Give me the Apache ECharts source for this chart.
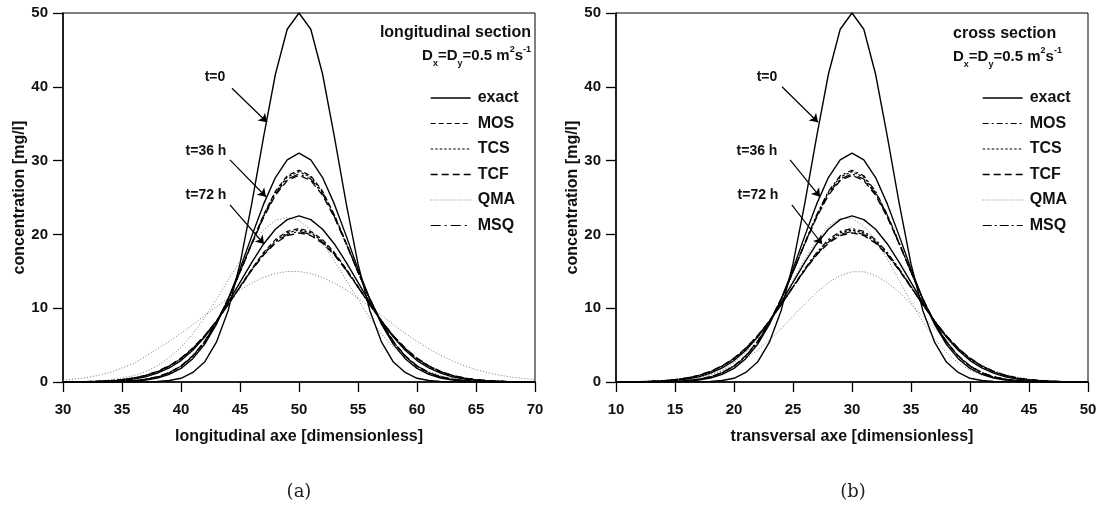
<!DOCTYPE html>
<html><head><meta charset="utf-8">
<script src="https://cdn.jsdelivr.net/npm/echarts@6/dist/echarts.min.js"></script>
<style>html,body{margin:0;padding:0;background:#fff}#c{width:1105px;height:518px}</style>
</head><body><div id="c"></div>
<script>
// ---------- data ----------
const xA = [30,31,32,33,34,35,36,37,38,39,40,41,42,43,44,45,46,47,48,49,50,51,52,53,54,55,56,57,58,59,60,61,62,63,64,65,66,67,68,69,70];
const xB = [10,11,12,13,14,15,16,17,18,19,20,21,22,23,24,25,26,27,28,29,30,31,32,33,34,35,36,37,38,39,40,41,42,43,44,45,46,47,48,49,50];
const xTicksA = [30,35,40,45,50,55,60,65,70];
const xTicksB = [10,15,20,25,30,35,40,45,50];
const yTicks = [0,10,20,30,40,50];

const exact0  = [0,0,0,0,0,0,0,0.02,0.07,0.2,0.5,1.3,2.7,5.4,9.7,16.0,24.2,33.2,41.7,47.8,50,47.8,41.7,33.2,24.2,16.0,9.7,5.4,2.7,1.3,0.5,0.2,0.07,0.02,0,0,0,0,0,0,0];
const exact36 = [0,0,0,0,0.02,0.05,0.12,0.27,0.54,1.03,1.85,3.16,5.1,7.8,11.25,15.3,19.8,24.1,27.7,30.1,31.0,30.1,27.7,24.1,19.8,15.3,11.25,7.8,5.1,3.16,1.85,1.03,0.54,0.27,0.12,0.05,0.02,0,0,0,0];
const exact72 = [0,0.01,0.03,0.06,0.12,0.22,0.41,0.7,1.2,1.9,2.9,4.3,6.1,8.2,10.8,13.5,16.2,18.7,20.7,22.0,22.5,22.0,20.7,18.7,16.2,13.5,10.8,8.2,6.1,4.3,2.9,1.9,1.2,0.7,0.41,0.22,0.12,0.06,0.03,0.01,0];

const mos36 = [0,0,0,0.02,0.04,0.08,0.17,0.35,0.66,1.22,2.11,3.46,5.38,7.95,11.15,14.9,18.85,22.65,25.85,27.95,28.7,27.95,25.85,22.65,18.85,14.9,11.15,7.95,5.38,3.46,2.11,1.22,0.66,0.35,0.17,0.08,0.04,0.02,0,0,0];
const tcs36 = [0,0,0,0.02,0.04,0.08,0.18,0.36,0.68,1.24,2.14,3.5,5.43,8.01,11.21,14.91,18.83,22.57,25.7,27.77,28.5,27.77,25.7,22.57,18.83,14.91,11.21,8.01,5.43,3.5,2.14,1.24,0.68,0.36,0.18,0.08,0.04,0.02,0,0,0];
const tcf36 = [0,0,0,0.02,0.04,0.09,0.19,0.38,0.71,1.28,2.19,3.56,5.5,8.1,11.3,14.9,18.7,22.3,25.3,27.3,28.0,27.3,25.3,22.3,18.7,14.9,11.3,8.1,5.5,3.56,2.19,1.28,0.71,0.38,0.19,0.09,0.04,0.02,0,0,0];
const msq36 = [0,0,0,0.02,0.04,0.08,0.18,0.37,0.69,1.26,2.16,3.53,5.46,8.05,11.25,14.9,18.75,22.4,25.5,27.5,28.2,27.5,25.5,22.4,18.75,14.9,11.25,8.05,5.46,3.53,2.16,1.26,0.69,0.37,0.18,0.08,0.04,0.02,0,0,0];

const mos72 = [0.01,0.02,0.05,0.09,0.17,0.3,0.51,0.86,1.37,2.11,3.13,4.49,6.18,8.2,10.5,12.95,15.35,17.55,19.3,20.4,20.8,20.4,19.3,17.55,15.35,12.95,10.5,8.2,6.18,4.49,3.13,2.11,1.37,0.86,0.51,0.3,0.17,0.09,0.05,0.02,0.01];
const tcs72 = [0.01,0.02,0.05,0.09,0.17,0.31,0.52,0.87,1.39,2.14,3.16,4.52,6.21,8.22,10.49,12.88,15.25,17.4,19.1,20.2,20.6,20.2,19.1,17.4,15.25,12.88,10.49,8.22,6.21,4.52,3.16,2.14,1.39,0.87,0.52,0.31,0.17,0.09,0.05,0.02,0.01];
const tcf72 = [0.01,0.03,0.05,0.1,0.18,0.32,0.55,0.91,1.44,2.2,3.24,4.6,6.28,8.27,10.5,12.85,15.15,17.2,18.8,19.85,20.2,19.85,18.8,17.2,15.15,12.85,10.5,8.27,6.28,4.6,3.24,2.2,1.44,0.91,0.55,0.32,0.18,0.1,0.05,0.03,0.01];
const msq72 = [0.01,0.02,0.05,0.09,0.17,0.31,0.54,0.89,1.41,2.17,3.2,4.56,6.25,8.24,10.49,12.86,15.2,17.3,18.95,20.0,20.4,20.0,18.95,17.3,15.2,12.86,10.49,8.24,6.25,4.56,3.2,2.17,1.41,0.89,0.54,0.31,0.17,0.09,0.05,0.02,0.01];

const qmaA36 = [0.02,0.04,0.09,0.16,0.29,0.52,0.87,1.4,2.2,3.3,4.7,6.5,8.7,11.2,13.8,16.4,18.8,20.6,21.9,22.3,21.9,20.6,18.8,16.4,13.8,11.2,8.7,6.5,4.7,3.3,2.2,1.4,0.87,0.52,0.29,0.16,0.09,0.04,0.02,0.01,0];
const qmaA72 = [0.25,0.4,0.6,0.9,1.3,1.9,2.5,3.5,4.5,5.5,6.6,7.78,8.99,10.21,11.39,12.48,13.42,14.17,14.7,14.97,14.97,14.7,14.17,13.42,12.48,11.39,10.21,8.99,7.78,6.6,5.51,4.51,3.62,2.86,2.22,1.69,1.26,0.93,0.67,0.47,0.33];
const qmaB36 = [0,0,0.01,0.03,0.07,0.15,0.29,0.54,0.96,1.61,2.6,3.99,5.84,8.16,10.85,13.77,16.66,19.22,21.14,22.17,22.17,21.14,19.22,16.66,13.77,10.85,8.16,5.84,3.99,2.6,1.61,0.96,0.54,0.29,0.15,0.07,0.03,0.01,0,0,0];
const qmaB72 = [0.01,0.02,0.04,0.08,0.14,0.24,0.4,0.65,1.01,1.53,2.24,3.16,4.32,5.69,7.24,8.9,10.58,12.14,13.47,14.43,14.94,14.94,14.43,13.47,12.14,10.58,8.9,7.24,5.69,4.32,3.16,2.24,1.53,1.01,0.65,0.4,0.24,0.14,0.08,0.04,0.02];

const legendNames = ['exact','MOS','TCS','TCF','QMA','MSQ'];

// ---------- styles ----------
const FONT = '"Liberation Sans", Arial, Helvetica, sans-serif';
const TXT = '#111';
const st = {
  exact: {color:'#000', width:1.4, type:'solid'},
  MOSa:  {color:'#000', width:1.2, type:[5,3]},
  MOSb:  {color:'#000', width:1.2, type:[6,3,2,3]},
  TCS:   {color:'#000', width:1.2, type:[2.5,2]},
  TCF:   {color:'#000', width:1.3, type:[7,4]},
  QMA:   {color:'#777', width:1,   type:[1,2]},
  MSQa:  {color:'#000', width:1.2, type:[10,4,2,4]},
  MSQb:  {color:'#000', width:1.2, type:[9,3,2,3]}
};

function pts(xs, ys){ return xs.map((x,i)=>[x, ys[i]]); }
function ser(name, gi, xs, ys, ls, extra){
  return Object.assign({
    name, type:'line', xAxisIndex:gi, yAxisIndex:gi, data:pts(xs, ys),
    symbol:'none', showSymbol:false, smooth:false, silent:true,
    lineStyle:Object.assign({}, ls), itemStyle:{color:ls.color},
    emphasis:{disabled:true}, z:ls.color==='#777'?1:3
  }, extra||{});
}
function arrows(list){
  return {
    silent:true, symbol:['none','arrow'], symbolSize:8, animation:false,
    label:{show:false}, lineStyle:{color:'#000', width:1.2, type:'solid'},
    emphasis:{disabled:true},
    data:list.map(a=>[{coord:a[0]},{coord:a[1]}])
  };
}

const series = [
  // panel (a)
  ser('exact',0,xA,exact0,st.exact,{markLine:arrows([
      [[44.32,39.8],[47.29,35.2]],
      [[44.15,30.1],[47.2,25.1]],
      [[44.15,24.0],[47.03,18.7]]])}),
  ser('exact',0,xA,exact36,st.exact),
  ser('exact',0,xA,exact72,st.exact),
  ser('MOS',0,xA,mos36,st.MOSa), ser('MOS',0,xA,mos72,st.MOSa),
  ser('TCS',0,xA,tcs36,st.TCS), ser('TCS',0,xA,tcs72,st.TCS),
  ser('TCF',0,xA,tcf36,st.TCF), ser('TCF',0,xA,tcf72,st.TCF),
  ser('QMA',0,xA,qmaA36,st.QMA), ser('QMA',0,xA,qmaA72,st.QMA),
  ser('MSQ',0,xA,msq36,st.MSQa), ser('MSQ',0,xA,msq72,st.MSQa),
  // panel (b)
  ser('exact',1,xB,exact0,st.exact,{markLine:arrows([
      [[24.07,40.0],[27.12,35.2]],
      [[24.75,30.1],[27.29,25.1]],
      [[24.9,24.0],[27.46,18.7]]])}),
  ser('exact',1,xB,exact36,st.exact),
  ser('exact',1,xB,exact72,st.exact),
  ser('MOS',1,xB,mos36,st.MOSb), ser('MOS',1,xB,mos72,st.MOSb),
  ser('TCS',1,xB,tcs36,st.TCS), ser('TCS',1,xB,tcs72,st.TCS),
  ser('TCF',1,xB,tcf36,st.TCF), ser('TCF',1,xB,tcf72,st.TCF),
  ser('QMA',1,xB,qmaB36,st.QMA), ser('QMA',1,xB,qmaB72,st.QMA),
  ser('MSQ',1,xB,msq36,st.MSQb), ser('MSQ',1,xB,msq72,st.MSQb)
];

function xAx(gi, ticks, name){
  return {
    type:'value', gridIndex:gi, min:ticks[0], max:ticks[ticks.length-1], interval:ticks[1]-ticks[0],
    name, nameLocation:'middle', nameGap:47,
    nameTextStyle:{fontFamily:FONT, fontSize:16, fontWeight:'bold', color:TXT},
    axisLine:{onZero:false, lineStyle:{color:'#000', width:1.5}},
    axisTick:{show:true, length:10, lineStyle:{color:'#000', width:1.3}},
    axisLabel:{margin:20, fontFamily:FONT, fontSize:15, fontWeight:'bold', color:TXT},
    splitLine:{show:false}
  };
}
function yAx(gi){
  return {
    type:'value', gridIndex:gi, min:yTicks[0], max:yTicks[yTicks.length-1], interval:yTicks[1]-yTicks[0],
    name:'concentration [mg/l]', nameLocation:'middle', nameGap:31, nameRotate:90,
    nameTextStyle:{fontFamily:FONT, fontSize:16, fontWeight:'bold', color:TXT},
    axisLine:{onZero:false, lineStyle:{color:'#000', width:1.5}},
    axisTick:{show:true, length:10, lineStyle:{color:'#000', width:1.3}},
    axisLabel:{margin:15, fontFamily:FONT, fontSize:15, fontWeight:'bold', color:TXT},
    splitLine:{show:false}
  };
}

const legTxt = {fontFamily:FONT, fontSize:16, fontWeight:'bold', color:TXT, padding:[0,0,0,2]};
function legendData(panel){
  return legendNames.map(n=>{
    let ls = st[n] || st[n+panel];
    return {name:n, lineStyle:{color:ls.color, width:ls.width, type:ls.type},
            itemStyle:{color:'rgba(0,0,0,0)', borderWidth:0, opacity:0}};
  });
}

const rich = {
  a:{fontFamily:FONT, fontSize:15, fontWeight:'bold', color:TXT, lineHeight:20},
  s:{fontFamily:FONT, fontSize:9, fontWeight:'bold', color:TXT, lineHeight:20, verticalAlign:'bottom', padding:[0,0,-2,0]},
  p:{fontFamily:FONT, fontSize:9, fontWeight:'bold', color:TXT, lineHeight:20, verticalAlign:'top', padding:[-1,0,0,0]}
};
const dText = '{a|D}{s|x}{a|=D}{s|y}{a|=0.5 m}{p|2}{a|s}{p|-1}';
function txt(x, y, text, align, extra){
  return {type:'text', x, y, silent:true, style:Object.assign({
    text, fill:TXT, font:'bold 16px '+FONT, textAlign:align||'left', textVerticalAlign:'middle'
  }, extra||{})};
}

const option = {
  backgroundColor:'#fff',
  animation:false,
  grid:[
    {left:63, right:570, top:13, bottom:136, show:true, borderColor:'#000', borderWidth:1, containLabel:false},
    {left:616, right:17, top:13, bottom:136, show:true, borderColor:'#000', borderWidth:1, containLabel:false}
  ],
  xAxis:[xAx(0, xTicksA, 'longitudinal axe [dimensionless]'), xAx(1, xTicksB, 'transversal axe [dimensionless]')],
  yAxis:[yAx(0), yAx(1)],
  legend:[
    {left:425, top:85, orient:'vertical', itemWidth:40, itemHeight:14, itemGap:9.5, selectedMode:false,
     data:legendData('a'), textStyle:legTxt},
    {left:977, top:85, orient:'vertical', itemWidth:40, itemHeight:14, itemGap:9.5, selectedMode:false,
     data:legendData('b'), textStyle:legTxt}
  ],
  series,
  graphic:[
    txt(531, 33, 'longitudinal section', 'right'),
    txt(531, 56, dText, 'right', {rich}),
    txt(953, 34, 'cross section', 'left'),
    txt(953, 57, dText, 'left', {rich}),
    txt(215, 77, 't=0', 'center', {font:'bold 14px '+FONT}),
    txt(206, 151, 't=36 h', 'center', {font:'bold 14px '+FONT}),
    txt(206, 195, 't=72 h', 'center', {font:'bold 14px '+FONT}),
    txt(767, 77, 't=0', 'center', {font:'bold 14px '+FONT}),
    txt(757, 151, 't=36 h', 'center', {font:'bold 14px '+FONT}),
    txt(758, 195, 't=72 h', 'center', {font:'bold 14px '+FONT}),
    txt(299, 492, '(a)', 'center', {font:'18px "DejaVu Serif", "Liberation Serif", serif', fill:'#222'}),
    txt(853, 492, '(b)', 'center', {font:'18px "DejaVu Serif", "Liberation Serif", serif', fill:'#222'})
  ]
};
const chart = echarts.init(document.getElementById('c'), null, {renderer:'canvas'});
chart.setOption(option);
</script></body></html>
